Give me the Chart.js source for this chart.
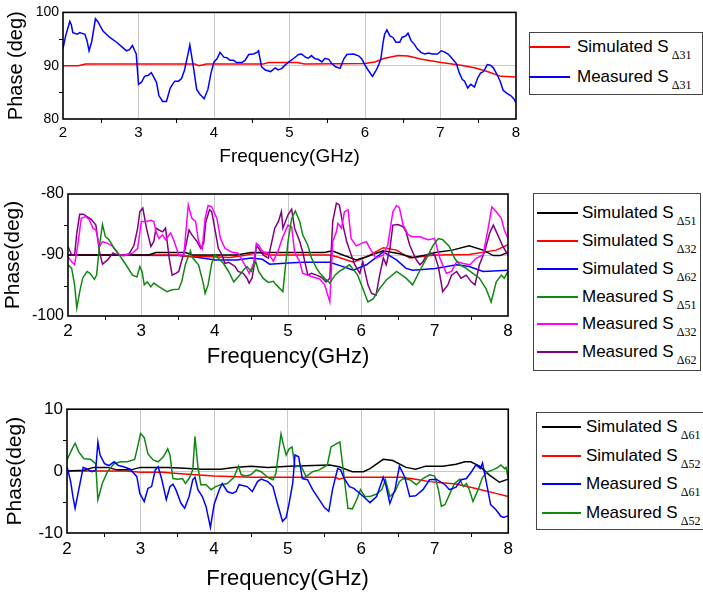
<!DOCTYPE html>
<html>
<head>
<meta charset="utf-8">
<script src="https://cdn.jsdelivr.net/npm/chart.js@4"></script>
<style>
body{margin:0;width:703px;height:598px;background:#fff;position:relative;overflow:hidden;font-family:"Liberation Sans",Arial,sans-serif}
canvas{position:absolute;left:0}
.leg{position:absolute;border:1px solid #444;box-sizing:border-box;background:#fff}
.leg .ln{position:absolute;height:1.5px}
.leg .tx{position:absolute;font-size:17px;line-height:20px;white-space:nowrap;color:#000}
.leg .sb{font-family:"Liberation Serif",serif;font-size:12px;position:relative;top:7px;margin-left:3px}
</style>
</head>
<body>
<canvas id="c1" width="526" height="170" style="top:0"></canvas>
<canvas id="c2" width="518" height="195" style="top:180px"></canvas>
<canvas id="c3" width="519" height="203" style="top:395px"></canvas>
<script>
// ---- top panel: S31
var simS31 = [[2,90],[2.2,90],[2.3,90.3],[3.75,90.3],[3.8,90.0],[3.9,90.3],[4.65,90.3],[4.72,90.6],[5.1,90.6],[5.2,90.3],[6.0,90.4],[6.13,90.7],[6.26,91.4],[6.44,91.9],[6.57,91.8],[6.75,91.2],[7.01,90.6],[7.27,90.1],[7.45,89.6],[7.62,88.9],[7.8,88.0],[8,87.9]];
var measS31 = [[2.0,93.2],[2.035,95.6],[2.09,98.3],[2.11,97.7],[2.13,96.2],[2.19,95.9],[2.22,96.2],[2.29,95.9],[2.32,94.6],[2.345,92.8],[2.38,94.5],[2.43,98.8],[2.46,98.3],[2.53,96.5],[2.62,95.3],[2.71,94.4],[2.80,93.3],[2.84,92.8],[2.88,93.0],[2.92,93.8],[2.95,92.8],[2.97,92.2],[3.0,86.5],[3.04,86.9],[3.08,88.0],[3.13,88.2],[3.17,88.7],[3.22,87.4],[3.24,86.8],[3.27,84.4],[3.32,83.3],[3.37,83.3],[3.42,85.8],[3.48,87.1],[3.53,87.1],[3.57,87.6],[3.61,89.2],[3.66,92.5],[3.68,93.9],[3.73,89.5],[3.77,85.6],[3.81,84.7],[3.87,83.8],[3.92,85.6],[3.96,88.6],[4.0,90.7],[4.04,91.3],[4.08,92.5],[4.13,91.6],[4.17,91.5],[4.21,91.0],[4.26,91.0],[4.30,90.6],[4.37,90.6],[4.41,91.0],[4.46,92.1],[4.52,92.2],[4.57,92.5],[4.59,92.8],[4.63,89.8],[4.68,89.2],[4.75,88.9],[4.81,89.6],[4.85,89.2],[4.90,89.5],[4.94,90.1],[5.0,90.8],[5.05,91.3],[5.12,92.1],[5.16,92.2],[5.21,91.6],[5.25,91.4],[5.29,91.9],[5.34,91.3],[5.38,91.2],[5.43,90.7],[5.47,91.4],[5.52,91.2],[5.56,90.4],[5.61,89.8],[5.67,89.5],[5.72,91.3],[5.76,92.1],[5.85,92.2],[5.92,91.8],[5.96,91.2],[6.0,90.1],[6.04,89.2],[6.10,88.0],[6.15,89.2],[6.18,90.1],[6.21,91.3],[6.24,94.4],[6.26,95.9],[6.29,96.7],[6.33,95.6],[6.37,95.3],[6.41,94.4],[6.46,94.4],[6.49,95.3],[6.54,95.6],[6.57,96.1],[6.61,94.7],[6.65,94.1],[6.69,93.2],[6.74,92.5],[6.79,92.2],[6.84,92.4],[6.89,92.2],[6.96,92.2],[7.01,92.8],[7.05,92.6],[7.10,92.2],[7.14,91.6],[7.21,90.4],[7.25,88.6],[7.29,87.4],[7.32,87.1],[7.36,85.8],[7.40,86.5],[7.45,86.0],[7.49,87.6],[7.53,88.6],[7.57,88.9],[7.62,90.2],[7.66,90.1],[7.70,89.6],[7.75,88.3],[7.79,87.1],[7.83,85.4],[7.88,84.8],[7.93,84.4],[7.97,83.8],[8.0,83.0]];

// ---- middle panel: S51 / S32 / S62
var simS51 = [[2,-90],[3.1,-90],[3.2,-89.6],[3.6,-89.6],[3.7,-90],[4.3,-90],[4.5,-89.6],[4.75,-89.6],[5.5,-89.6],[5.6,-89.3],[5.75,-90],[5.93,-90.8],[6.07,-90.3],[6.3,-89.3],[6.52,-89.8],[6.7,-90.4],[6.88,-90],[7.01,-89.6],[7.24,-89.2],[7.47,-88.5],[7.66,-89.2],[7.8,-90.1],[7.89,-90.1],[8,-89.6]];
var simS32 = [[2,-90],[3.5,-90],[3.6,-90.2],[4.0,-90.3],[4.2,-90.4],[4.4,-90.1],[4.6,-89.6],[4.75,-90],[5.57,-90],[5.7,-90.4],[5.89,-91.2],[6.07,-90.3],[6.3,-88.8],[6.48,-89.2],[6.66,-90.5],[6.8,-90.3],[7.01,-90],[7.47,-89.9],[7.84,-89.2],[8,-88.3]];
var simS62 = [[2,-90],[3.5,-90.1],[3.7,-90.3],[3.9,-90.6],[4.0,-90.8],[4.3,-90.8],[4.5,-90.5],[4.65,-90.7],[4.75,-91.5],[5.0,-91.3],[5.2,-91.2],[5.57,-91.2],[5.75,-91.9],[5.89,-92.5],[6.07,-91.6],[6.3,-89.5],[6.48,-90.8],[6.61,-92.2],[6.7,-92.5],[7.01,-92.2],[7.3,-91.6],[7.47,-91.9],[7.66,-92.7],[8,-92.5]];
var measS51 = [[2.0,-91.6],[2.05,-92.2],[2.09,-94.9],[2.12,-98.7],[2.16,-96],[2.2,-93.8],[2.26,-92.7],[2.3,-93.0],[2.36,-94.0],[2.39,-93.3],[2.43,-88.4],[2.47,-85],[2.51,-87],[2.56,-87.5],[2.63,-88.9],[2.70,-90],[2.79,-91.6],[2.88,-93.3],[2.94,-93.6],[2.98,-91.9],[3.01,-92.7],[3.04,-94.9],[3.08,-94.4],[3.13,-95.2],[3.17,-94.6],[3.24,-95.2],[3.31,-95.7],[3.35,-96],[3.42,-95.7],[3.51,-95.6],[3.55,-94.4],[3.6,-91.6],[3.67,-89.3],[3.69,-90.3],[3.78,-91.6],[3.84,-94.4],[3.87,-96.3],[3.91,-94.9],[3.96,-91.4],[4.0,-90],[4.05,-90.5],[4.12,-91.4],[4.19,-92.7],[4.26,-94.4],[4.32,-93.6],[4.39,-92.5],[4.44,-91.9],[4.5,-92.7],[4.56,-91.1],[4.6,-92.7],[4.66,-93.8],[4.73,-94.5],[4.8,-94.3],[4.84,-94.9],[4.93,-96],[5.0,-87.8],[5.05,-84],[5.1,-82.8],[5.16,-84.5],[5.2,-86.7],[5.27,-88.4],[5.32,-90.5],[5.39,-92.2],[5.43,-92.9],[5.5,-93.8],[5.57,-94.6],[5.64,-93.3],[5.7,-92.7],[5.84,-91.6],[5.95,-93.3],[6.02,-95.5],[6.09,-97.7],[6.16,-97.2],[6.25,-95.5],[6.34,-94.1],[6.48,-92.7],[6.61,-93.8],[6.7,-94.9],[6.8,-92.5],[6.89,-90.5],[6.98,-88.4],[7.05,-87.3],[7.11,-87.5],[7.2,-88.6],[7.27,-90.5],[7.34,-91.6],[7.43,-92.2],[7.52,-93],[7.61,-93.8],[7.7,-95.5],[7.77,-97.7],[7.84,-94.4],[7.91,-93.3],[7.95,-93.8],[8,-92.7]];
var measS32 = [[2.0,-90.3],[2.05,-91.1],[2.09,-91.6],[2.14,-87.8],[2.18,-84],[2.24,-83.7],[2.29,-84.2],[2.34,-85.6],[2.38,-85.9],[2.43,-88.6],[2.47,-87.8],[2.54,-88.1],[2.61,-88.6],[2.70,-90],[2.79,-90],[2.88,-89.7],[2.95,-88.9],[3.0,-84.5],[3.07,-84.5],[3.13,-84.3],[3.17,-84.5],[3.2,-86.2],[3.24,-87.3],[3.29,-86.7],[3.33,-87.5],[3.4,-86.4],[3.44,-87.5],[3.51,-90],[3.58,-90],[3.64,-81.8],[3.69,-84],[3.74,-84.5],[3.78,-87.8],[3.83,-89],[3.87,-84],[3.91,-81.9],[3.96,-82.1],[4.03,-84],[4.08,-87.3],[4.14,-88.9],[4.23,-89.5],[4.32,-89.7],[4.41,-91.6],[4.47,-93],[4.53,-91.4],[4.57,-88.1],[4.6,-88.4],[4.66,-89.5],[4.73,-89.7],[4.8,-91.0],[4.86,-89.5],[4.93,-87],[5.0,-85.1],[5.05,-85.4],[5.09,-89.5],[5.16,-91.1],[5.2,-93],[5.34,-93.6],[5.43,-93.9],[5.5,-94.9],[5.57,-97.7],[5.61,-87.8],[5.66,-86.2],[5.68,-84.8],[5.73,-85.6],[5.77,-82.9],[5.82,-82.6],[5.86,-87.3],[5.93,-88.5],[6.0,-88.1],[6.07,-87.8],[6.11,-88.8],[6.2,-90.5],[6.3,-90],[6.36,-88.4],[6.43,-82.9],[6.48,-81.9],[6.52,-82.3],[6.57,-85.1],[6.64,-86.7],[6.7,-87],[6.8,-87],[6.91,-87.5],[7.0,-87.3],[7.07,-90.5],[7.16,-93],[7.23,-92.7],[7.3,-91.1],[7.39,-91.4],[7.48,-91.6],[7.57,-90.5],[7.66,-90],[7.73,-85.6],[7.78,-82.1],[7.84,-82.9],[7.91,-84],[7.95,-85.9],[8,-87.3]];
var measS62 = [[2.0,-88.6],[2.05,-90],[2.09,-90],[2.12,-86.4],[2.16,-83.3],[2.21,-83.3],[2.26,-83.7],[2.32,-84.2],[2.38,-85.1],[2.43,-89.5],[2.47,-91.5],[2.54,-90.8],[2.61,-89.7],[2.68,-90],[2.77,-90.1],[2.84,-89.7],[2.9,-88.4],[2.95,-85.6],[2.98,-82.9],[3.02,-82.3],[3.07,-85.6],[3.13,-88.6],[3.17,-87.8],[3.2,-85.6],[3.24,-85.9],[3.29,-86.2],[3.33,-85.6],[3.38,-90.5],[3.42,-93.3],[3.47,-93],[3.51,-92.7],[3.56,-90.5],[3.6,-88.9],[3.65,-85.9],[3.69,-86.7],[3.76,-87.8],[3.81,-88.9],[3.85,-88.1],[3.88,-84.5],[3.93,-82.6],[3.96,-82.9],[4.01,-86.2],[4.05,-88.9],[4.1,-90],[4.14,-91.4],[4.19,-91.2],[4.23,-91.5],[4.28,-91.9],[4.32,-92.7],[4.39,-93],[4.44,-93.8],[4.47,-94.6],[4.51,-93.8],[4.54,-91.6],[4.57,-88.4],[4.6,-88.9],[4.66,-90],[4.73,-90.5],[4.82,-85.6],[4.87,-84.5],[4.91,-82.9],[4.93,-85.6],[5.0,-83.4],[5.05,-82.5],[5.09,-85.6],[5.16,-87.8],[5.2,-89.5],[5.27,-93.3],[5.32,-93],[5.39,-93.3],[5.45,-93.6],[5.52,-94.4],[5.57,-93.8],[5.61,-84.5],[5.66,-81.5],[5.7,-81.8],[5.75,-85.1],[5.8,-87.8],[5.84,-89.2],[5.91,-91.6],[5.98,-93],[6.02,-91.1],[6.09,-94.9],[6.14,-96.3],[6.2,-96.6],[6.25,-93.3],[6.3,-90.5],[6.34,-91.6],[6.39,-88.9],[6.43,-85.1],[6.5,-85],[6.57,-85.4],[6.61,-86.2],[6.66,-88.4],[6.7,-89.5],[6.75,-90.8],[6.8,-91.6],[6.84,-91.1],[6.89,-90],[6.95,-89.7],[7.0,-90],[7.05,-91.9],[7.11,-96],[7.18,-94.9],[7.23,-93.3],[7.3,-92.7],[7.36,-93.8],[7.43,-93.3],[7.5,-94.4],[7.55,-94.9],[7.61,-91.6],[7.68,-89.5],[7.75,-86.4],[7.8,-85.1],[7.86,-86.7],[7.93,-88.6],[8,-90]];

// ---- bottom panel: S61 / S52
var simS61 = [[2,0],[2.23,0.15],[2.36,0.6],[2.55,0.6],[2.68,0.2],[2.87,0.2],[3.0,0.6],[3.37,0.6],[3.6,0.45],[3.82,0.3],[4.09,0.3],[4.27,0.6],[4.5,0.8],[4.73,0.6],[5.02,0.8],[5.57,1.0],[5.7,0.7],[5.88,-0.1],[6.03,-0.1],[6.12,0.4],[6.3,1.9],[6.43,1.7],[6.61,0.6],[6.74,0.3],[6.88,0.8],[7.11,0.8],[7.29,1.1],[7.41,1.5],[7.49,1.5],[7.61,0.8],[7.74,-0.6],[7.88,-1.8],[8,-1.3]];
var simS52 = [[2,0],[2.8,0],[3.0,-0.2],[3.3,-0.2],[3.5,-0.4],[4.0,-0.8],[4.5,-1.0],[5.65,-1.0],[5.7,-1.3],[5.79,-1.0],[6.56,-1.0],[6.74,-1.3],[6.93,-1.7],[7.29,-2.1],[7.56,-2.8],[7.83,-3.6],[8,-4.1]];
var measS61 = [[2.0,0.7],[2.05,-1.7],[2.08,-4.1],[2.11,-6],[2.16,-3],[2.22,0.6],[2.28,0.3],[2.34,-0.1],[2.39,0.1],[2.42,4.7],[2.45,2.6],[2.51,1.2],[2.57,0.9],[2.64,1.5],[2.7,0.9],[2.77,0.7],[2.86,0.3],[2.95,-0.9],[2.99,-3.6],[3.05,-4.9],[3.1,-2.8],[3.15,-2.5],[3.2,0.2],[3.24,0.7],[3.29,-1.4],[3.35,-4.6],[3.4,-2.5],[3.44,-2.1],[3.48,-3],[3.55,-5.2],[3.6,-6],[3.66,-4.1],[3.71,-1.4],[3.74,-1],[3.78,-3],[3.84,-4.1],[3.89,-5.7],[3.95,-9.1],[4.0,-5.4],[4.07,-3],[4.11,-2],[4.18,-3.3],[4.25,-3.6],[4.3,-3.3],[4.34,-2.2],[4.45,-2.5],[4.52,-3.3],[4.59,-1.7],[4.64,-1.3],[4.73,-1.7],[4.8,-2.5],[4.86,-5.2],[4.93,-8.1],[4.98,-7.5],[5.02,-5.2],[5.07,-1.9],[5.1,2.6],[5.15,2.3],[5.2,-1.2],[5.27,-1.4],[5.34,-3],[5.43,-4.6],[5.5,-5.9],[5.56,-6.5],[5.61,-3],[5.68,0.4],[5.72,0.2],[5.77,-1.2],[5.84,-2.5],[5.9,-2.8],[6.03,-4.1],[6.12,-5.1],[6.21,-4.1],[6.3,-1],[6.34,-2.5],[6.39,-5.2],[6.46,-3],[6.52,0.8],[6.59,-0.9],[6.66,-4.1],[6.74,-4],[6.84,-3],[6.93,-1.4],[7.02,-1.3],[7.14,-2.2],[7.2,-3],[7.29,-2.6],[7.36,-1.4],[7.43,-1.2],[7.5,-0.1],[7.56,1.0],[7.62,0.4],[7.65,1.3],[7.7,-1.7],[7.76,-5.4],[7.83,-6.2],[7.9,-7.3],[7.94,-7.5],[8,-7.2]];
var measS52 = [[2.0,1.8],[2.07,3.6],[2.11,4.5],[2.16,3.1],[2.23,2],[2.32,1.9],[2.39,1.2],[2.42,-4.6],[2.48,-2],[2.55,-0.1],[2.64,1.2],[2.73,1.5],[2.82,1.5],[2.92,1.9],[2.97,4.4],[3.0,6.1],[3.05,5.4],[3.1,2.8],[3.17,1.8],[3.24,1.5],[3.31,2.3],[3.37,3.6],[3.4,2.6],[3.44,-1.2],[3.51,-1.3],[3.57,-1.2],[3.61,-2],[3.66,-1.2],[3.71,0.2],[3.74,5.6],[3.78,0.7],[3.82,-2.2],[3.89,-2.2],[3.96,-3],[4.02,-2.5],[4.09,-2.2],[4.18,-2],[4.27,-1],[4.33,0.8],[4.37,-0.6],[4.43,-0.8],[4.5,-0.6],[4.57,0.2],[4.64,-0.1],[4.73,-1],[4.8,-1.4],[4.84,-0.4],[4.91,6.0],[4.94,4.4],[4.98,2.6],[5.02,3.6],[5.06,3.9],[5.1,0.7],[5.18,0.9],[5.25,-0.9],[5.34,-0.1],[5.43,0.2],[5.54,1.0],[5.59,3.9],[5.66,4.4],[5.71,4.7],[5.77,-1.2],[5.82,-6],[5.88,-6.1],[5.94,-4.6],[5.99,-3],[6.05,-4.1],[6.12,-4.1],[6.21,-3.7],[6.28,-3],[6.33,-1.4],[6.39,-4.1],[6.46,-3.3],[6.52,-1.7],[6.57,-1.2],[6.66,-1.4],[6.75,-2.2],[6.84,-1.2],[6.93,-0.6],[7.0,-0.8],[7.05,-3],[7.09,-5.7],[7.14,-5.4],[7.23,-3],[7.27,-2],[7.34,-1.3],[7.39,-2.5],[7.43,-2],[7.47,-3],[7.52,-4.9],[7.59,-3],[7.65,-1],[7.72,-0.1],[7.79,0.2],[7.86,0.6],[7.9,1.0],[7.95,0.4],[7.97,0.6],[8,-1.2]];

var freqTicks = [2, 3, 4, 5, 6, 7, 8];

// frame box + small minor ticks
var framePlugin = {
  id: 'frame',
  afterDraw: function(chart) {
    var ctx = chart.ctx, a = chart.chartArea, x = chart.scales.x, y = chart.scales.y;
    ctx.save();
    ctx.strokeStyle = '#000';
    ctx.lineWidth = 1;
    ctx.beginPath();
    for (var f = 2.5; f < 8; f += 1) {
      var px = Math.round(x.getPixelForValue(f)) + 0.5;
      ctx.moveTo(px, a.bottom); ctx.lineTo(px, a.bottom + 4);
    }
    var st = y.options.ticks.stepSize;
    for (var v = y.min + st / 2; v < y.max; v += st) {
      var py = Math.round(y.getPixelForValue(v)) + 0.5;
      ctx.moveTo(a.left, py); ctx.lineTo(a.left - 4, py);
    }
    ctx.stroke();
    ctx.lineWidth = 1.6;
    ctx.strokeRect(a.left, a.top, a.right - a.left, a.bottom - a.top);
    ctx.restore();
  }
};

function gridColor(c) {
  var s = c.scale;
  return (c.tick.value === s.min || c.tick.value === s.max) ? 'rgba(0,0,0,0)' : '#c8c8c8';
}

function makeChart(id, series, cfg) {
  return new Chart(document.getElementById(id), {
    type: 'line',
    data: {
      datasets: series.map(function(s) {
        return {
          label: s.name + s.sub,
          data: s.data.map(function(p) { return {x: p[0], y: p[1]}; }),
          borderColor: s.color,
          borderWidth: 1.5,
          pointRadius: 0,
          tension: 0,
          fill: false
        };
      })
    },
    options: {
      responsive: false,
      animation: false,
      events: [],
      layout: {padding: {top: cfg.padTop, right: 10, left: 0, bottom: 0}},
      plugins: {legend: {display: false}, tooltip: {enabled: false}},
      scales: {
        x: {
          type: 'linear', min: 2, max: 8,
          afterBuildTicks: function(s) { s.ticks = freqTicks.map(function(v) { return {value: v}; }); },
          ticks: {color: '#000', font: {size: cfg.xTickSize, family: 'Liberation Sans'}, padding: cfg.xTickPad, maxRotation: 0},
          grid: {color: gridColor, drawTicks: false, lineWidth: 1},
          border: {display: false},
          title: {display: true, text: 'Frequency(GHz)', color: '#000',
                  font: {size: cfg.xTitleSize, family: 'Liberation Sans', lineHeight: 1.2},
                  padding: {top: 0, bottom: cfg.xTitlePad}},
          afterFit: function(s) { s.height = cfg.xH; }
        },
        y: {
          min: cfg.ymin, max: cfg.ymax,
          ticks: {stepSize: cfg.step, color: '#000', font: {size: cfg.yTickSize, family: 'Liberation Sans'}, padding: 4},
          grid: {color: gridColor, drawTicks: false, lineWidth: 1},
          border: {display: false},
          title: {display: true, text: cfg.yTitle, color: '#000',
                  font: {size: cfg.yTitleSize, family: 'Liberation Sans', lineHeight: 1.2},
                  padding: {top: cfg.yTitlePad, bottom: 0}},
          afterFit: function(s) { s.width = cfg.yW; }
        }
      }
    },
    plugins: [framePlugin]
  });
}

function makeLegend(series, box) {
  var d = document.createElement('div');
  d.className = 'leg';
  d.style.left = box.x + 'px'; d.style.top = box.y + 'px';
  d.style.width = box.w + 'px'; d.style.height = box.h + 'px';
  series.forEach(function(s, i) {
    var ry = box.rows[i] - box.y - 1;
    var ln = document.createElement('div');
    ln.className = 'ln';
    ln.style.left = (box.lx - box.x - 1) + 'px';
    ln.style.width = box.lw + 'px';
    ln.style.top = (ry - 1) + 'px';
    ln.style.backgroundColor = s.color;
    d.appendChild(ln);
    var tx = document.createElement('div');
    tx.className = 'tx';
    tx.style.left = (box.tx - box.x - 1) + 'px';
    tx.style.top = (ry - 10) + 'px';
    tx.appendChild(document.createTextNode(s.name));
    var sb = document.createElement('span');
    sb.className = 'sb';
    sb.textContent = s.sub;
    tx.appendChild(sb);
    d.appendChild(tx);
  });
  document.body.appendChild(d);
}

var topSeries = [
  {name: 'Simulated S', sub: '\u039431', color: '#ff0000', data: simS31},
  {name: 'Measured S', sub: '\u039431', color: '#0000ff', data: measS31}
];
var midSeries = [
  {name: 'Simulated S', sub: '\u039451', color: '#000000', data: simS51},
  {name: 'Simulated S', sub: '\u039432', color: '#ff0000', data: simS32},
  {name: 'Simulated S', sub: '\u039462', color: '#0000ff', data: simS62},
  {name: 'Measured S', sub: '\u039451', color: '#118811', data: measS51},
  {name: 'Measured S', sub: '\u039432', color: '#ff00ff', data: measS32},
  {name: 'Measured S', sub: '\u039462', color: '#800080', data: measS62}
];
var botSeries = [
  {name: 'Simulated S', sub: '\u039461', color: '#000000', data: simS61},
  {name: 'Simulated S', sub: '\u039452', color: '#ff0000', data: simS52},
  {name: 'Measured S', sub: '\u039461', color: '#0000ff', data: measS61},
  {name: 'Measured S', sub: '\u039452', color: '#118811', data: measS52}
];

// draw order: measured under simulated as in the original
makeChart('c1', topSeries.slice().reverse(), {padTop: 9, xH: 51, yW: 63, ymin: 80, ymax: 100, step: 10,
  xTickSize: 15, xTickPad: 5, yTickSize: 14, xTitleSize: 19, xTitlePad: 2,
  yTitle: 'Phase (deg)', yTitleSize: 20, yTitlePad: 4});
makeChart('c2', midSeries.slice(3).concat(midSeries.slice(0, 3)), {padTop: 14, xH: 59, yW: 68, ymin: -100, ymax: -80, step: 10,
  xTickSize: 17, xTickPad: 5, yTickSize: 16, xTitleSize: 22, xTitlePad: 5,
  yTitle: 'Phase(deg)', yTitleSize: 21, yTitlePad: 1});
makeChart('c3', botSeries.slice(2).concat(botSeries.slice(0, 2)), {padTop: 12, xH: 65, yW: 67, ymin: -10, ymax: 10, step: 10,
  xTickSize: 17, xTickPad: 6, yTickSize: 17, xTitleSize: 22, xTitlePad: 6,
  yTitle: 'Phase(deg)', yTitleSize: 21, yTitlePad: 3});

makeLegend(topSeries, {x: 529, y: 32, w: 174, h: 63, lx: 529, lw: 41, tx: 577, rows: [47, 77]});
makeLegend(midSeries, {x: 533, y: 193, w: 168, h: 178, lx: 537, lw: 41, tx: 582, rows: [213, 241, 269, 297, 324, 352]});
makeLegend(botSeries, {x: 536, y: 412, w: 168, h: 118, lx: 542, lw: 39, tx: 586, rows: [427, 456, 484, 513]});
</script>
</body>
</html>
